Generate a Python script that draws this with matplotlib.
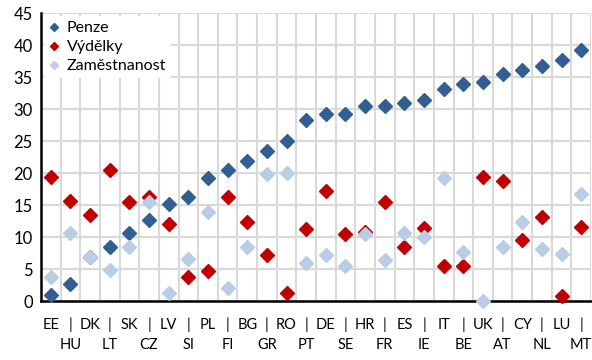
import numpy as np
import matplotlib.pyplot as plt

plt.rcParams['font.family'] = ['Lato', 'DejaVu Sans']

# countries, left to right
countries = ['EE', 'HU', 'DK', 'LT', 'SK', 'CZ', 'LV', 'SI', 'PL', 'FI', 'BG', 'GR', 'RO', 'PT',
             'DE', 'SE', 'HR', 'FR', 'ES', 'IE', 'IT', 'BE', 'UK', 'AT', 'CY', 'NL', 'LU', 'MT']

penze = [1.0, 2.6, 6.9, 8.5, 10.7, 12.7, 15.1, 16.3, 19.2, 20.4, 21.9, 23.5, 25.0, 28.3,
         29.2, 29.2, 30.4, 30.4, 31.0, 31.4, 33.2, 33.9, 34.2, 35.5, 36.1, 36.7, 37.7, 39.2]
vydelky = [19.4, 15.7, 13.4, 20.4, 15.4, 16.2, 12.0, 3.8, 4.7, 16.3, 12.3, 7.2, 1.3, 11.3,
           17.2, 10.4, 10.8, 15.4, 8.5, 11.4, 5.4, 5.4, 19.4, 18.8, 9.5, 13.2, 0.8, 11.6]
zamestnanost = [3.8, 10.7, 6.9, 4.8, 8.5, 15.4, 1.3, 6.6, 13.9, 2.0, 8.5, 19.8, 20.0, 6.0,
                7.2, 5.4, 10.4, 6.4, 10.7, 10.0, 19.2, 7.6, 0.05, 8.5, 12.3, 8.2, 7.3, 16.7]

fig = plt.figure(figsize=(5.92, 3.6), dpi=100)
ax = fig.add_axes([41 / 592, 1 - 301 / 360, 550 / 592, 288 / 360])

x = np.arange(len(countries))
ms = 6.8
ax.plot(x, penze, 'D', color='#335E92', ms=ms, ls='none', label='Penze', zorder=3, clip_on=False)
ax.plot(x, vydelky, 'D', color='#C00000', ms=ms, ls='none', label='Výdělky', zorder=3, clip_on=False)
ax.plot(x, zamestnanost, 'D', color='#B9CDE5', ms=ms, ls='none', label='Zaměstnanost', zorder=3, clip_on=False)

ax.set_xlim(-0.5, len(countries) - 0.5)
ax.set_ylim(0, 45)
ax.set_yticks(np.arange(0, 46, 5))

# two-row labels: odd countries drop to the second row with a bar above
labels = [c if i % 2 == 0 else '|\n' + c for i, c in enumerate(countries)]
ax.set_xticks(x)
ax.set_xticklabels(labels, fontsize=10.5, linespacing=1.55, va='top')
ax.set_xticks(np.arange(-0.5, len(countries), 1), minor=True)
ax.tick_params(axis='x', which='both', length=0, pad=12)
ax.tick_params(axis='y', length=0, labelsize=12, pad=6)

ax.grid(True, which='minor', axis='x', color='#D9D9D9', lw=1.5)
ax.grid(True, which='major', axis='y', color='#D9D9D9', lw=1.5)
ax.set_axisbelow(True)

for s in ['top', 'right']:
    ax.spines[s].set_visible(False)
for s in ['left', 'bottom']:
    ax.spines[s].set_linewidth(1.8)
    ax.spines[s].set_color('black')

leg = ax.legend(loc='upper left', fontsize=11.5, frameon=True, fancybox=False, markerscale=0.65,
                handlelength=0.6, handletextpad=0.5, borderpad=0.3, labelspacing=0.3,
                borderaxespad=0.2)
leg.get_frame().set_facecolor('white')
leg.get_frame().set_edgecolor('none')
leg.get_frame().set_alpha(1)

fig.savefig('out.png', dpi=100)
